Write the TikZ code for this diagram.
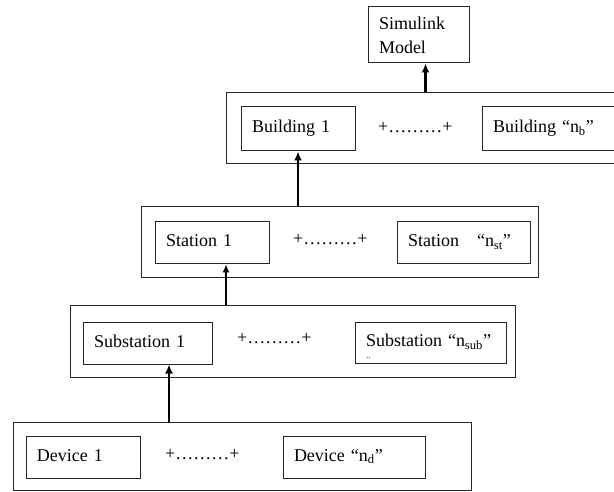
\documentclass[tikz,border=0pt]{standalone}
\usepackage{fontspec}
\setmainfont{Liberation Serif}
\usetikzlibrary{arrows.meta}

\begin{document}
\begin{tikzpicture}[x=1pt,y=-1pt,
    every node/.style={font=\fontsize{18}{24}\selectfont},
    group/.style={draw=black!85,line width=1pt,inner sep=0pt},
    unit/.style={draw=black!85,line width=1pt,inner xsep=11pt,inner ysep=0pt,
      align=left,text height=12pt,text depth=4pt},
    filler/.style={anchor=west,inner sep=0pt,text height=12pt,text depth=4pt},
    lift/.style={-{Latex[length=9pt,width=8pt]},line width=2.5pt},
    thin lift/.style={-{Latex[length=8pt,width=7pt]},line width=1.2pt}]
  \useasboundingbox (0,0) rectangle (614,492);
  \clip (0,0) rectangle (614,492);
  \node[unit,text width=79pt,minimum height=56pt,text height=,text depth=] (sim) at (418.5,35) {Simulink\\Model};
  % buildings
  \node[group,minimum width=404pt,minimum height=71pt] (bld) at (428,128.5) {};
  \node[unit,text width=92pt,minimum height=44pt] (b1) at (298,129) {Building 1};
  \node[filler] (bdots) at (378,129) {+………+};
  \node[unit,text width=118pt,minimum height=44pt] (bn) at (552,129) {Building “n\textsubscript{b}”};
  % stations
  \node[group,minimum width=397pt,minimum height=71pt] (sta) at (339.5,242.5) {};
  \node[unit,text width=92pt,minimum height=42pt] (st1) at (212,243) {Station 1};
  \node[filler] (stdots) at (293,240) {+………+};
  \node[unit,text width=111pt,minimum height=42pt] (stn) at (463.5,243) {Station\quad“n\textsubscript{st}”};
  % substations
  \node[group,minimum width=445pt,minimum height=71pt] (sub) at (292.5,341.5) {};
  \node[unit,text width=107pt,minimum height=42pt] (s1) at (147.5,343) {Substation 1};
  \node[filler] (sdots) at (237,340) {+………+};
  \node[unit,text width=129pt,minimum height=41pt] (sn) at (430.5,342.5) {Substation “n\textsubscript{sub}”};
  \node[anchor=base west,inner sep=0pt,font=\fontsize{9}{9}\selectfont] (sgap) at (366,358) {..};
  % devices
  \node[group,minimum width=458pt,minimum height=68pt] (dev) at (242,456) {};
  \node[unit,text width=92pt,minimum height=42pt] (d1) at (83,457) {Device 1};
  \node[filler] (ddots) at (165,455) {+………+};
  \node[unit,text width=120pt,minimum height=42pt] (dn) at (354,457) {Device “n\textsubscript{d}”};
  % arrows
  \draw[lift] ([xshift=-2.5pt]bld.north) -- ([xshift=-2.5pt]bld.north |- sim.south);
  \draw[lift] (b1.south |- sta.north) -- (b1.south);
  \draw[thin lift] ([xshift=14pt]st1.south |- sub.north) -- ([xshift=14pt]st1.south);
  \draw[lift] ([xshift=21.5pt]s1.south |- dev.north) -- ([xshift=21.5pt]s1.south);
\end{tikzpicture}
\end{document}
